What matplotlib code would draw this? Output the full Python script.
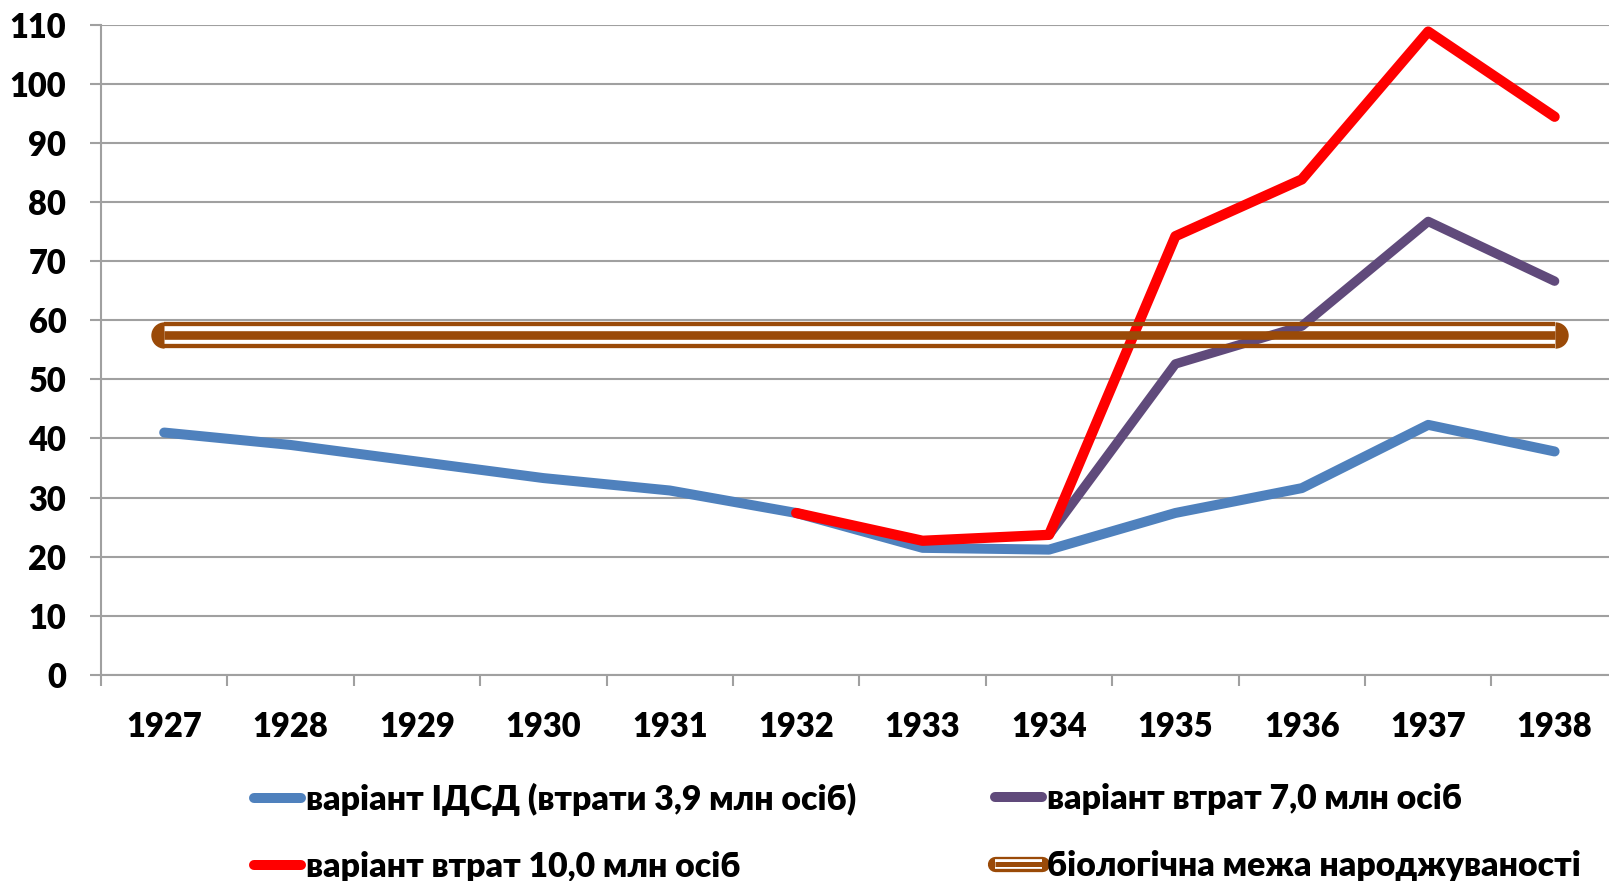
import numpy as np
import matplotlib
matplotlib.use("Agg")
import matplotlib.pyplot as plt
from matplotlib.lines import Line2D
from matplotlib.legend_handler import HandlerTuple
from matplotlib.transforms import offset_copy

plt.rcParams['font.family'] = ['Lato', 'DejaVu Sans']
plt.rcParams['font.weight'] = 'heavy'

years = ['1927', '1928', '1929', '1930', '1931', '1932',
         '1933', '1934', '1935', '1936', '1937', '1938']
idsd = [41.0, 38.9, 36.1, 33.3, 31.2, 27.4, 21.5, 21.2, 27.4, 31.6, 42.3, 37.8]
loss_7 = [np.nan, np.nan, np.nan, np.nan, np.nan, np.nan, np.nan,
          23.7, 52.6, 59.0, 76.7, 66.6]
loss_10 = [np.nan, np.nan, np.nan, np.nan, np.nan, 27.4, 22.7,
           23.7, 74.2, 83.8, 108.8, 94.4]
bio_limit = [57.5] * 12

labels = ['варіант ІДСД (втрати 3,9 млн осіб)',
          'варіант втрат 7,0 млн осіб',
          'варіант втрат 10,0 млн осіб',
          'біологічна межа народжуваності']

c_blue = '#4F81BD'
c_purple = '#604A7B'
c_red = '#FF0000'
c_brown = '#9A4A08'
c_grid = '#A0A0A0'

fig = plt.figure(figsize=(16.09, 8.81), dpi=100)
# plot area runs slightly past the right edge of the image
ax = fig.add_axes([101 / 1609, 1 - 675 / 881, 12 * 126.4 / 1609, (675 - 24.5) / 881])

x = np.arange(len(years))
ax.plot(x, idsd, color=c_blue, lw=7.2, solid_capstyle='round', solid_joinstyle='round', zorder=3)
ax.plot(x, loss_7, color=c_purple, lw=6.8, solid_capstyle='round', solid_joinstyle='round', zorder=4)
ax.plot(x, loss_10, color=c_red, lw=7.4, solid_capstyle='round', solid_joinstyle='round', zorder=5)

# compound brown line: three stripes, gaps stay transparent
for dy, lw in [(10.7, 3.1), (0, 6.2), (-10.7, 3.1)]:
    tr = offset_copy(ax.transData, fig=fig, x=0, y=dy, units='dots')
    ax.plot(x, bio_limit, color=c_brown, lw=lw, solid_capstyle='butt', transform=tr, zorder=6)
ax.plot(x[:1], bio_limit[:1], 'o', ms=19, color=c_brown, mew=0, fillstyle='left', zorder=6)
ax.plot(x[-1:], bio_limit[-1:], 'o', ms=19, color=c_brown, mew=0, fillstyle='right', zorder=6)

ax.set_xlim(-0.5, 11.5)
ax.set_ylim(0, 110)
ax.set_yticks(np.arange(0, 111, 10))
ax.set_xticks(x)
ax.set_xticklabels(years)
ax.set_xticks(np.arange(-0.5, 12, 1), minor=True)
ax.grid(axis='y', color=c_grid, lw=1.5, zorder=1)
ax.set_axisbelow(True)

for s in ['top', 'right']:
    ax.spines[s].set_visible(False)
for s in ['left', 'bottom']:
    ax.spines[s].set_color(c_grid)
    ax.spines[s].set_linewidth(1.5)

ax.tick_params(axis='y', length=8, width=1.5, color=c_grid, pad=17, labelsize=23.5)
ax.tick_params(axis='x', which='major', length=0, pad=26, labelsize=23.5)
ax.tick_params(axis='x', which='minor', length=8, width=1.5, color=c_grid)

h_blue = Line2D([], [], color=c_blue, lw=7.2, solid_capstyle='round')
h_purple = Line2D([], [], color=c_purple, lw=7.2, solid_capstyle='round')
h_red = Line2D([], [], color=c_red, lw=7.2, solid_capstyle='round')
h_brown = (Line2D([], [], color=c_brown, lw=11, solid_capstyle='round'),
           Line2D([], [], color='white', lw=7.0, solid_capstyle='butt'),
           Line2D([], [], color=c_brown, lw=3.6, solid_capstyle='butt'))

fs = 24.3
leg_kw = dict(frameon=False, fontsize=fs, handlelength=47 / (fs * 100 / 72), handletextpad=0.15,
              labelspacing=1.04, loc='upper left', borderpad=0, borderaxespad=0,
              handler_map={tuple: HandlerTuple(ndivide=1)})
fig.legend([h_blue, h_red], [labels[0], labels[2]],
           bbox_to_anchor=(254 / 1609, 1 - 783 / 881), **leg_kw)
fig.legend([h_purple, h_brown], [labels[1], labels[3]],
           bbox_to_anchor=(995 / 1609, 1 - 783 / 881), **leg_kw)

fig.savefig('out.png', dpi=100)
